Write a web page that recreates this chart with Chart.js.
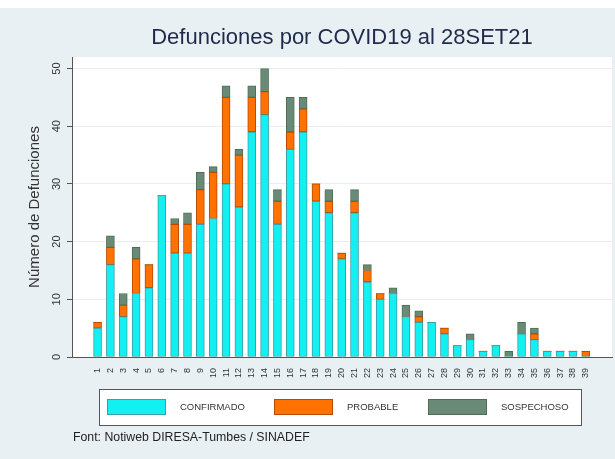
<!DOCTYPE html>
<html><head><meta charset="utf-8">
<script src="https://cdn.jsdelivr.net/npm/chart.js@4/dist/chart.umd.min.js"></script>
<style>html,body{margin:0;padding:0;background:#e9f0f3;}canvas{display:block}</style>
</head><body>
<canvas id="c" width="615" height="459"></canvas>
<script>
const weeks = [1,2,3,4,5,6,7,8,9,10,11,12,13,14,15,16,17,18,19,20,21,22,23,24,25,26,27,28,29,30,31,32,33,34,35,36,37,38,39];
const confirmado = [5,16,7,11,12,28,18,18,23,24,30,26,39,42,23,36,39,27,25,17,25,13,10,11,7,6,6,4,2,3,1,2,0,4,3,1,1,1,0];
const probable   = [1,3,2,6,4,0,5,5,6,8,15,9,6,4,4,3,4,3,2,1,2,2,1,0,0,1,0,1,0,0,0,0,0,0,1,0,0,0,1];
const sospechoso = [0,2,2,2,0,0,1,2,3,1,2,1,2,4,2,6,2,0,2,0,2,1,0,1,2,1,0,0,0,1,0,0,1,2,1,0,0,0,0];
const yTicks = [0,10,20,30,40,50];
const seriesNames = ['CONFIRMADO','PROBABLE','SOSPECHOSO'];
const titleText = 'Defunciones por COVID19 al 28SET21';
const yTitle = 'Número de Defunciones';
const sourceText = 'Font: Notiweb DIRESA-Tumbes / SINADEF';

const FONT = "'Liberation Sans', Arial, sans-serif";
const fills = ['#12f0f2', '#ff7200', '#6a8a78'];
const borders = ['#3c9ea6', '#b84a00', '#4e6e52'];

const bgPlugin = {
  id: 'bg',
  beforeDraw(chart) {
    const {ctx, chartArea: a} = chart;
    ctx.save();
    ctx.fillStyle = '#e9f0f3';
    ctx.fillRect(0, 0, chart.width, chart.height);
    ctx.fillStyle = '#ffffff';
    ctx.fillRect(0, 0, chart.width, 8);
    ctx.fillRect(a.left, a.top, a.right - a.left, a.bottom - a.top);
    ctx.restore();
  }
};

const textPlugin = {
  id: 'texts',
  afterDraw(chart) {
    const ctx = chart.ctx;
    const a = chart.chartArea;
    ctx.save();
    // title centred over the plot region
    ctx.fillStyle = '#1f2b4a';
    ctx.font = '22px ' + FONT;
    ctx.textAlign = 'center';
    ctx.textBaseline = 'middle';
    ctx.fillText(titleText, (a.left + a.right) / 2, 38);
    // legend box
    ctx.textAlign = 'left';
    ctx.fillStyle = '#ffffff';
    ctx.fillRect(99.5, 389.5, 482, 36);
    ctx.strokeStyle = '#555';
    ctx.lineWidth = 1;
    ctx.strokeRect(99.5, 389.5, 482, 36);
    const sx = [107, 274, 428];
    const tx = [180, 347, 501];
    chart.data.datasets.forEach((ds, i) => {
      ctx.fillStyle = ds.backgroundColor;
      ctx.fillRect(sx[i], 399, 59, 16);
      ctx.strokeStyle = ds.borderColor;
      ctx.strokeRect(sx[i] + 0.5, 399.5, 58, 15);
      ctx.fillStyle = '#333';
      ctx.font = '9.5px ' + FONT;
      ctx.textBaseline = 'middle';
      ctx.fillText(ds.label, tx[i], 407.5);
    });
    ctx.fillStyle = '#222';
    ctx.font = '12.3px ' + FONT;
    ctx.textBaseline = 'middle';
    ctx.fillText(sourceText, 73, 438);
    ctx.restore();
  }
};

const mkDs = (label, data, i) => ({
  label, data,
  backgroundColor: fills[i],
  borderColor: borders[i],
  borderWidth: c => (c.raw ? 1 : 0),
  borderSkipped: false,
  barThickness: 8
});

new Chart(document.getElementById('c'), {
  type: 'bar',
  data: {
    labels: weeks,
    datasets: [
      mkDs(seriesNames[0], confirmado, 0),
      mkDs(seriesNames[1], probable, 1),
      mkDs(seriesNames[2], sospechoso, 2)
    ]
  },
  options: {
    responsive: false,
    animation: false,
    devicePixelRatio: 1,
    layout: {padding: {left: 0, right: 3, top: 57, bottom: 68}},
    plugins: {
      legend: {display: false},
      tooltip: {enabled: false},
      title: {display: false}
    },
    scales: {
      x: {
        type: 'linear', stacked: true, min: -0.45, max: 40.5,
        afterBuildTicks: s => { s.ticks = weeks.map(v => ({value: v})); },
        ticks: {autoSkip: false, minRotation: 90, maxRotation: 90, padding: 3,
                font: {family: FONT, size: 9}, color: '#333'},
        grid: {display: false},
        border: {display: true, color: '#555', width: 1},
        afterFit: s => { s.height = 34; }
      },
      y: {
        stacked: true, min: 0, max: 52,
        afterBuildTicks: s => { s.ticks = yTicks.map(v => ({value: v})); },
        ticks: {minRotation: 90, maxRotation: 90, crossAlign: 'center', padding: 4,
                font: {family: FONT, size: 11}, color: '#333'},
        grid: {color: '#e8eef1', tickColor: '#555', tickLength: 5},
        border: {color: '#555', width: 1},
        title: {display: true, text: yTitle, color: '#333',
                font: {family: FONT, size: 15}, padding: {top: 26, bottom: 0}},
        afterFit: s => { s.width = 72; }
      }
    }
  },
  plugins: [bgPlugin, textPlugin]
});
</script>
</body></html>
